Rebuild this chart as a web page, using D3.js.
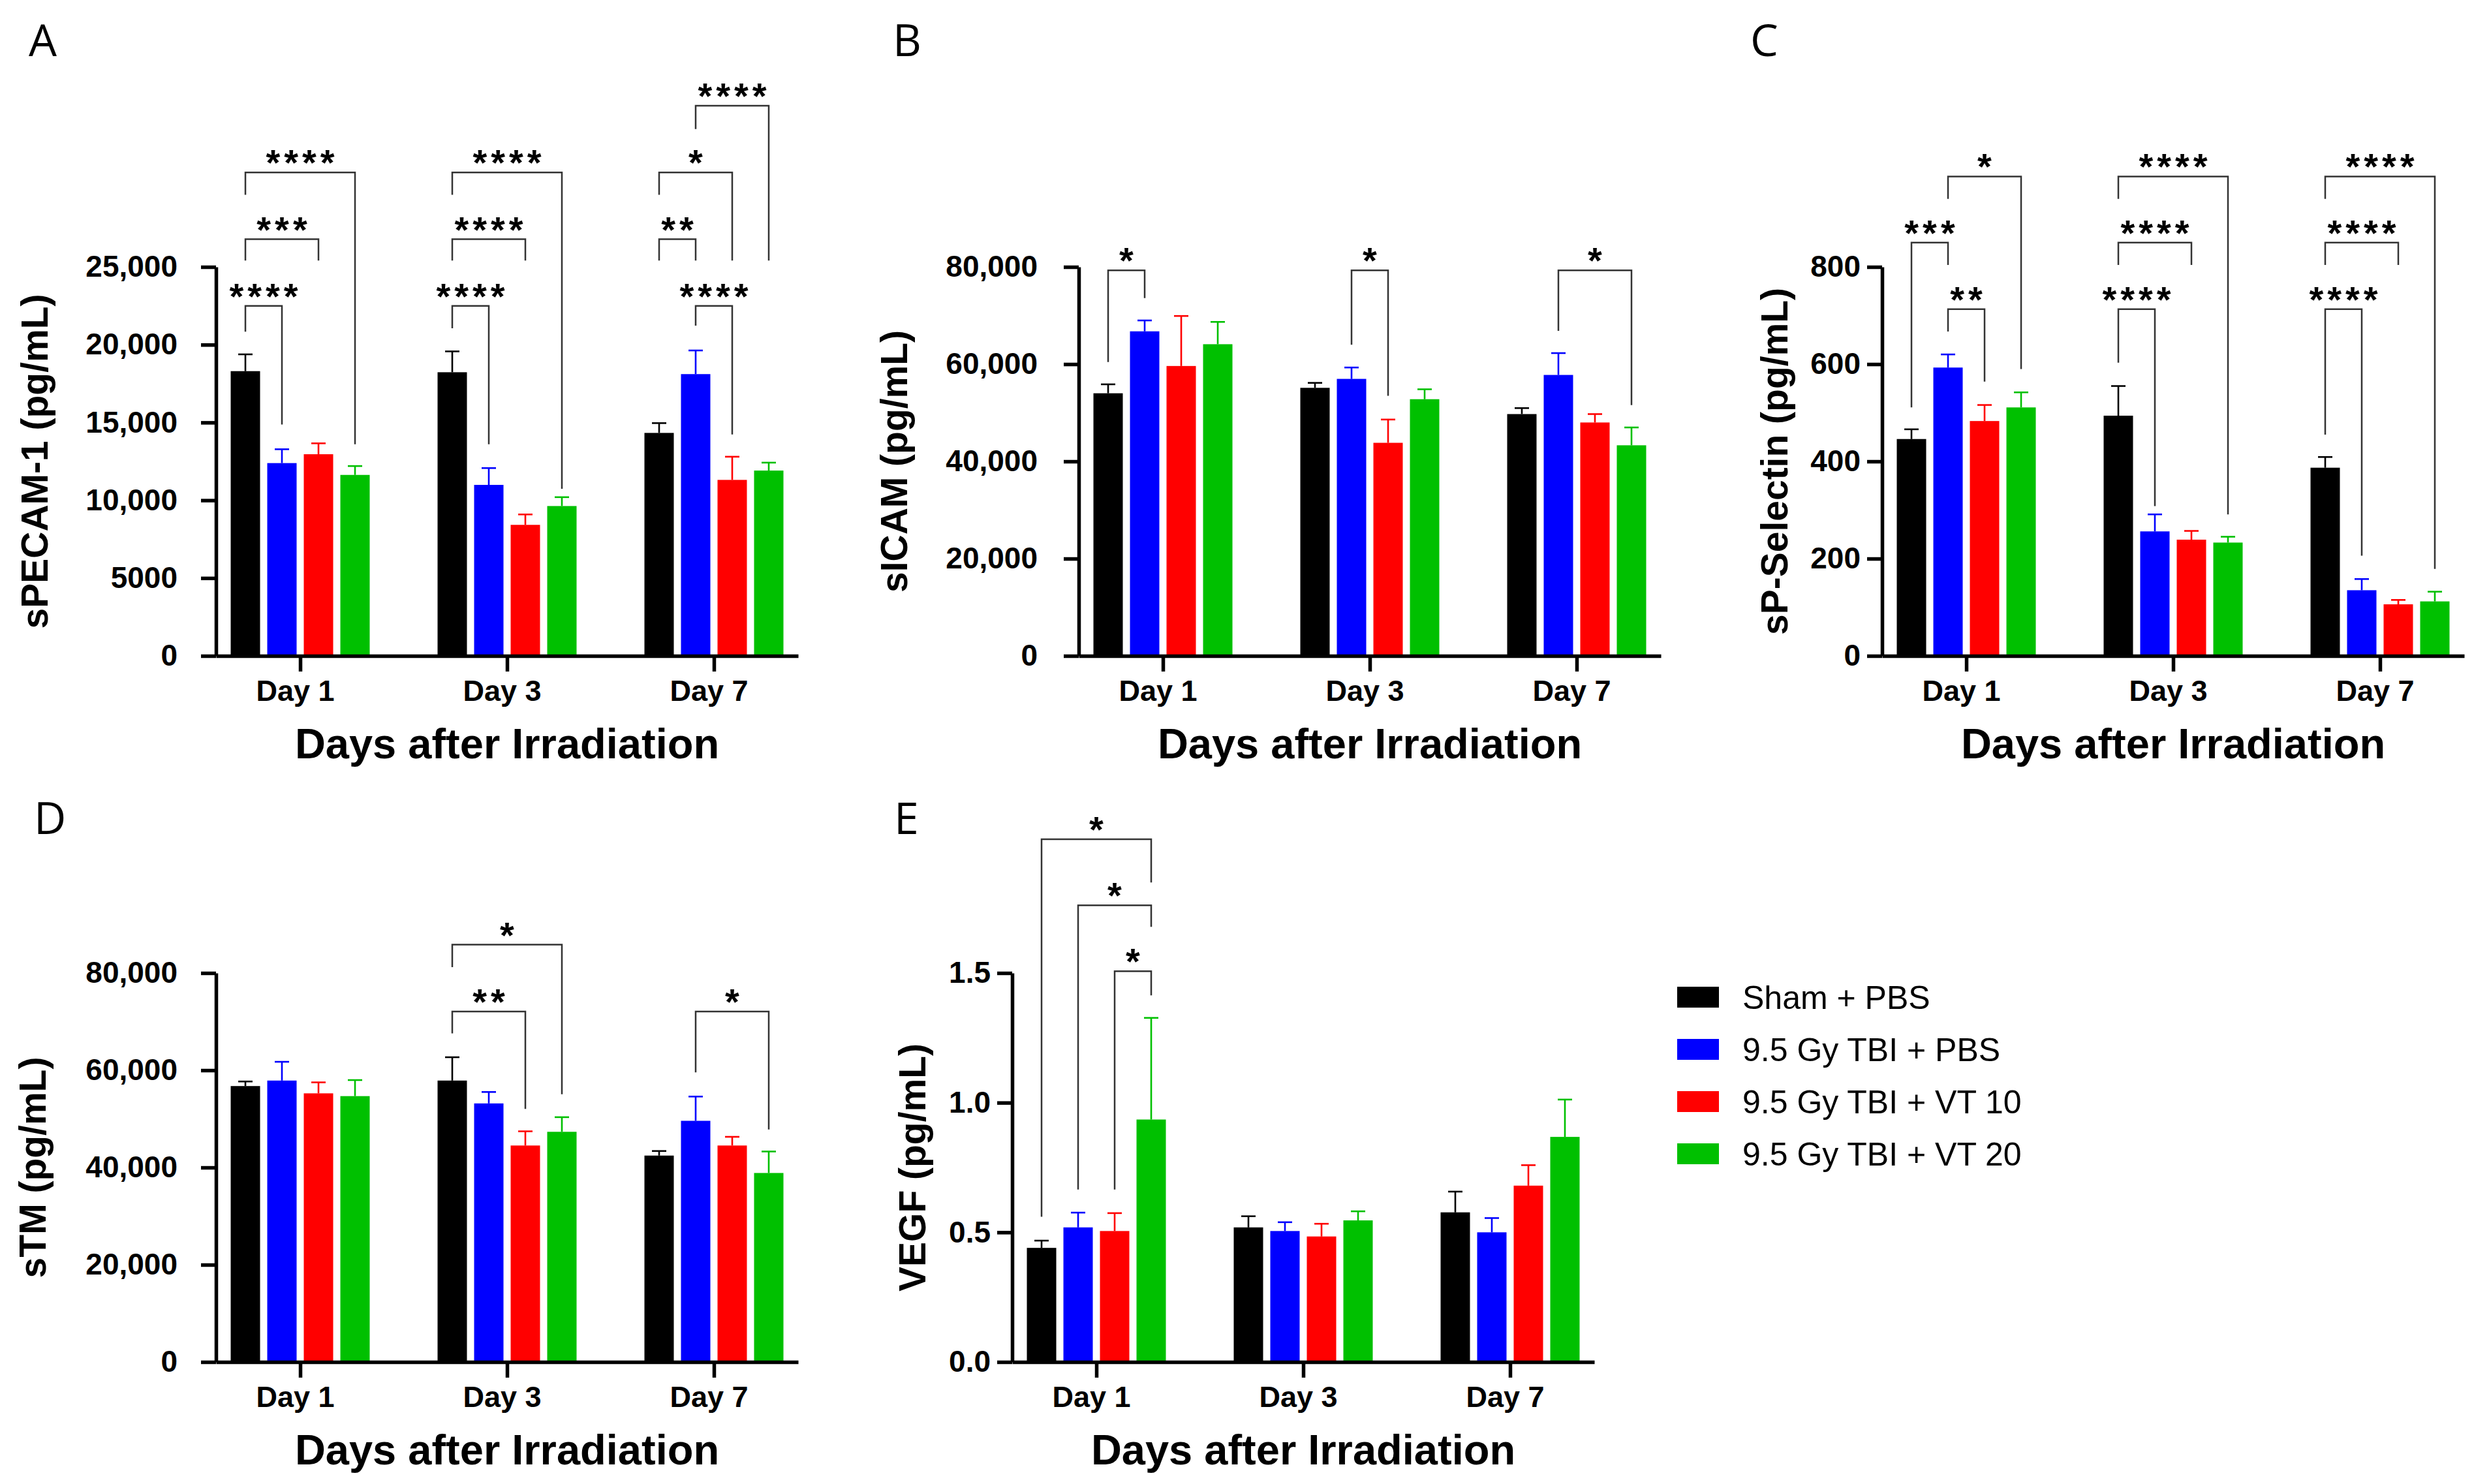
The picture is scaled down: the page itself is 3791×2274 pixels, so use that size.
<!DOCTYPE html>
<html>
<head>
<meta charset="utf-8">
<script src="https://cdn.jsdelivr.net/npm/d3@7"></script>
<style>
  body { margin: 0; background: #fff; }
  svg text { font-family: 'Liberation Sans', Arial, sans-serif; }
</style>
</head>
<body>
<div id="chart"></div>
<script>
// ---- data ----
const days = ['Day 1', 'Day 3', 'Day 7'];
const groups = ['Sham + PBS', '9.5 Gy TBI + PBS', '9.5 Gy TBI + VT 10', '9.5 Gy TBI + VT 20'];
const groupColors = ['#000000', '#0000ff', '#ff0000', '#00c000'];

// rows = day, columns = group; "upper" = top of the error bar
const pecamMean  = [[18300, 12390, 12960, 11630], [18230, 10990, 8420, 9630], [14330, 18110, 11310, 11910]];
const pecamUpper = [[19380, 13280, 13660, 12200], [19570, 12070, 9090, 10200], [14960, 19630, 12800, 12420]];
const pecamTicks = [0, 5000, 10000, 15000, 20000, 25000];
const pecamTickLabels = ['0', '5000', '10,000', '15,000', '20,000', '25,000'];
const pecamSig = [
  { day: 0, a: 0, b: 1, top: 22490, ya: 20840, yb: 14870, label: '****' },
  { day: 0, a: 0, b: 2, top: 26780, ya: 25410, yb: 25410, label: '***' },
  { day: 0, a: 0, b: 3, top: 31070, ya: 29640, yb: 13600, label: '****' },
  { day: 1, a: 0, b: 1, top: 22490, ya: 21060, yb: 13600, label: '****' },
  { day: 1, a: 0, b: 2, top: 26780, ya: 25410, yb: 25410, label: '****' },
  { day: 1, a: 0, b: 3, top: 31070, ya: 29640, yb: 10740, label: '****' },
  { day: 2, a: 0, b: 1, top: 26780, ya: 25410, yb: 25410, label: '**' },
  { day: 2, a: 0, b: 2, top: 31070, ya: 29640, yb: 25410, label: '*' },
  { day: 2, a: 1, b: 3, top: 35360, ya: 33860, yb: 25410, label: '****' },
  { day: 2, a: 1, b: 2, top: 22490, ya: 21220, yb: 14230, label: '****' }
];

const icamMean  = [[54010, 66750, 59620, 64100], [55130, 56970, 43820, 52790], [49730, 57780, 48000, 43310]];
const icamUpper = [[55850, 68990, 69910, 68690], [56150, 59310, 48610, 54830], [50960, 62270, 49730, 46980]];
const icamTicks = [0, 20000, 40000, 60000, 80000];
const icamTickLabels = ['0', '20,000', '40,000', '60,000', '80,000'];
const icamSig = [
  { day: 0, a: 0, b: 1, top: 79290, ya: 60430, yb: 73580, label: '*' },
  { day: 1, a: 1, b: 2, top: 79290, ya: 64000, yb: 53500, label: '*' },
  { day: 2, a: 1, b: 3, top: 79290, ya: 66850, yb: 51570, label: '*' }
];

const selMean  = [[446, 593, 483, 511], [494, 256, 239, 233], [387, 135, 106, 112]];
const selUpper = [[466, 620, 516, 542], [555, 291, 257, 245], [409, 158, 115, 132]];
const selTicks = [0, 200, 400, 600, 800];
const selTickLabels = ['0', '200', '400', '600', '800'];
const selSig = [
  { day: 0, a: 0, b: 1, top: 850, ya: 511, yb: 804, label: '***' },
  { day: 0, a: 1, b: 2, top: 713, ya: 667, yb: 564, label: '**' },
  { day: 0, a: 1, b: 3, top: 986, ya: 940, yb: 590, label: '*' },
  { day: 1, a: 0, b: 1, top: 713, ya: 603, yb: 308, label: '****' },
  { day: 1, a: 0, b: 2, top: 850, ya: 804, yb: 804, label: '****' },
  { day: 1, a: 0, b: 3, top: 986, ya: 940, yb: 291, label: '****' },
  { day: 2, a: 0, b: 1, top: 713, ya: 455, yb: 206, label: '****' },
  { day: 2, a: 0, b: 2, top: 850, ya: 804, yb: 804, label: '****' },
  { day: 2, a: 0, b: 3, top: 986, ya: 940, yb: 179, label: '****' }
];

const stmMean  = [[56750, 57880, 55250, 54680], [57880, 53180, 44520, 47340], [42450, 49600, 44520, 38870]];
const stmUpper = [[57690, 61740, 57510, 57980], [62680, 55530, 47440, 50350], [43390, 54590, 46310, 43290]];
const stmTicks = [0, 20000, 40000, 60000, 80000];
const stmTickLabels = ['0', '20,000', '40,000', '60,000', '80,000'];
const stmSig = [
  { day: 1, a: 0, b: 2, top: 72090, ya: 67580, yb: 52050, label: '**' },
  { day: 1, a: 0, b: 3, top: 85840, ya: 81220, yb: 55060, label: '*' },
  { day: 2, a: 1, b: 3, top: 72090, ya: 59580, yb: 47810, label: '*' }
];

const vegfMean  = [[0.440, 0.519, 0.505, 0.935], [0.519, 0.505, 0.484, 0.546], [0.577, 0.500, 0.680, 0.868]];
const vegfUpper = [[0.468, 0.576, 0.574, 1.327], [0.562, 0.539, 0.533, 0.581], [0.657, 0.555, 0.759, 1.012]];
const vegfTicks = [0, 0.5, 1.0, 1.5];
const vegfTickLabels = ['0.0', '0.5', '1.0', '1.5'];
const vegfSig = [
  { day: 0, a: 0, b: 3, top: 2.016, ya: 0.560, yb: 1.849, label: '*' },
  { day: 0, a: 1, b: 3, top: 1.761, ya: 0.665, yb: 1.678, label: '*' },
  { day: 0, a: 2, b: 3, top: 1.507, ya: 0.665, yb: 1.414, label: '*' }
];

// ---- layout ----
const PLOT_W = 892;
const PLOT_H = 596;
const BAR_W = 45;
const BAR_STEP = 56;

const panels = [
  { letter: 'A', x: 331,  y: 409,  letterX: 44,   letterY: 86,   tickPad: 36, labelX: -258, yLabel: 'sPECAM-1 (pg/mL)',
    mean: pecamMean, upper: pecamUpper, ticks: pecamTicks, tickLabels: pecamTickLabels, sig: pecamSig },
  { letter: 'B', x: 1653, y: 409,  letterX: 1368, letterY: 86,   tickPad: 40, labelX: -263, yLabel: 'sICAM (pg/mL)',
    mean: icamMean, upper: icamUpper, ticks: icamTicks, tickLabels: icamTickLabels, sig: icamSig },
  { letter: 'C', x: 2884, y: 409,  letterX: 2682, letterY: 86,   tickPad: 10, labelX: -145, yLabel: 'sP-Selectin (pg/mL)',
    mean: selMean, upper: selUpper, ticks: selTicks, tickLabels: selTickLabels, sig: selSig },
  { letter: 'D', x: 331,  y: 1491, letterX: 52,   letterY: 1278, tickPad: 36, labelX: -261, yLabel: 'sTM (pg/mL)',
    mean: stmMean, upper: stmUpper, ticks: stmTicks, tickLabels: stmTickLabels, sig: stmSig },
  { letter: 'E', x: 1551, y: 1491, letterX: 1370, letterY: 1278, tickPad: 10, labelX: -133, yLabel: 'VEGF (pg/mL)',
    mean: vegfMean, upper: vegfUpper, ticks: vegfTicks, tickLabels: vegfTickLabels, sig: vegfSig }
];

const svg = d3.select('#chart')
  .append('svg')
  .attr('width', 3791)
  .attr('height', 2274)
  .style('background', '#fff');

function drawPanel(p) {
  // letter above the panel
  svg.append('text')
    .attr('x', p.letterX)
    .attr('y', p.letterY)
    .style('font-family', "'Open Sans', sans-serif")
    .style('font-size', '68px')
    .text(p.letter);

  const g = svg.append('g').attr('transform', `translate(${p.x},${p.y})`);

  const x = d3.scalePoint().domain(days).range([0, PLOT_W]).padding(0.407);
  const y = d3.scaleLinear().domain([0, d3.max(p.ticks)]).range([PLOT_H, 0]);
  const barX = (di, gi) => x(days[di]) + (gi - 1.5) * BAR_STEP;

  // bars
  p.mean.forEach((row, di) => {
    g.selectAll(null)
      .data(row)
      .join('rect')
      .attr('x', (d, gi) => barX(di, gi) - BAR_W / 2)
      .attr('y', d => y(d))
      .attr('width', BAR_W)
      .attr('height', d => PLOT_H - y(d))
      .attr('fill', (d, gi) => groupColors[gi]);

    // upper error bars only
    const eb = g.selectAll(null)
      .data(row.map((d, gi) => ({ gi, mean: d, up: p.upper[di][gi] })))
      .join('g')
      .attr('stroke', d => groupColors[d.gi])
      .attr('stroke-width', 2.6);
    eb.append('line')
      .attr('x1', d => barX(di, d.gi)).attr('x2', d => barX(di, d.gi))
      .attr('y1', d => y(d.mean)).attr('y2', d => y(d.up));
    eb.append('line')
      .attr('x1', d => barX(di, d.gi) - 11).attr('x2', d => barX(di, d.gi) + 11)
      .attr('y1', d => y(d.up)).attr('y2', d => y(d.up));
  });

  // y axis
  const yAxis = g.append('g')
    .call(d3.axisLeft(y)
      .tickValues(p.ticks)
      .tickFormat((d, i) => p.tickLabels[i])
      .tickSize(23)
      .tickSizeOuter(0)
      .tickPadding(p.tickPad));
  yAxis.select('.domain').attr('stroke-width', 5.5);
  yAxis.selectAll('.tick line').attr('stroke-width', 5.5);
  yAxis.selectAll('.tick text')
    .style('font-family', "'Liberation Sans', Arial, sans-serif")
    .style('font-size', '46px')
    .style('font-weight', 'bold')
    .attr('fill', '#000');

  // x axis
  const xAxis = g.append('g')
    .attr('transform', `translate(0,${PLOT_H})`)
    .call(d3.axisBottom(x).tickSize(24).tickSizeOuter(0).tickPadding(13));
  xAxis.select('.domain').attr('stroke-width', 5.5);
  xAxis.selectAll('.tick line').attr('stroke-width', 5.5);
  xAxis.selectAll('.tick text')
    .attr('dx', -8)
    .style('font-family', "'Liberation Sans', Arial, sans-serif")
    .style('font-size', '45px')
    .style('font-weight', 'bold')
    .attr('fill', '#000');

  // axis titles
  g.append('text')
    .attr('transform', `translate(${p.labelX},${PLOT_H / 2}) rotate(-90)`)
    .attr('text-anchor', 'middle')
    .style('font-size', '57px')
    .style('font-weight', 'bold')
    .text(p.yLabel);

  g.append('text')
    .attr('x', PLOT_W / 2)
    .attr('y', PLOT_H + 157)
    .attr('text-anchor', 'middle')
    .style('font-size', '65px')
    .style('font-weight', 'bold')
    .text('Days after Irradiation');

  // significance brackets
  const br = g.selectAll(null).data(p.sig).join('g');
  br.append('path')
    .attr('fill', 'none')
    .attr('stroke', '#333')
    .attr('stroke-width', 2.5)
    .attr('d', d => {
      const xa = barX(d.day, d.a), xb = barX(d.day, d.b);
      return `M${xa},${y(d.ya)}V${y(d.top)}H${xb}V${y(d.yb)}`;
    });
  br.append('text')
    .attr('x', d => (barX(d.day, d.a) + barX(d.day, d.b)) / 2 + 3)
    .attr('y', d => y(d.top) + 4)
    .attr('text-anchor', 'middle')
    .style('font-size', '56px')
    .style('font-weight', 'bold')
    .style('letter-spacing', '6px')
    .text(d => d.label);
}

panels.forEach(drawPanel);

// legend
const legend = svg.append('g').attr('transform', 'translate(2570,1528)');
const item = legend.selectAll(null)
  .data(groups)
  .join('g')
  .attr('transform', (d, i) => `translate(0,${i * 80})`);
item.append('rect')
  .attr('x', 0).attr('y', -16)
  .attr('width', 64).attr('height', 32)
  .attr('fill', (d, i) => groupColors[i]);
item.append('text')
  .attr('x', 100)
  .attr('dy', '0.35em')
  .style('font-size', '50px')
  .text(d => d);
</script>
</body>
</html>
